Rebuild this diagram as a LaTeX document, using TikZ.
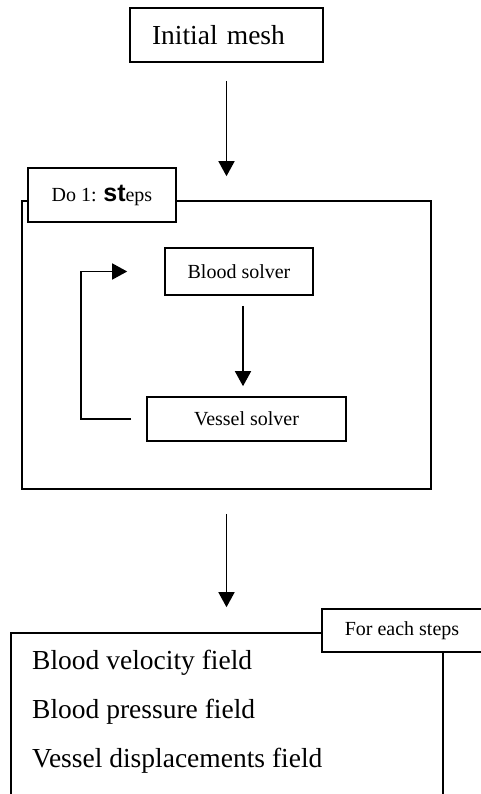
\documentclass[tikz,border=0pt]{standalone}
\usepackage{fontspec}
\setmainfont{Liberation Serif}
\setsansfont{Liberation Sans}
\usetikzlibrary{arrows.meta, positioning}

\begin{document}
\begin{tikzpicture}[x=1pt, y=-1pt,
  box/.style={draw, line width=1.6pt, fill=white, inner sep=0pt},
  bigtxt/.style={font=\fontsize{27.5}{33}\selectfont},
  smalltxt/.style={font=\fontsize{20}{24}\selectfont},
  arr/.style={line width=1.5pt, -{Triangle[length=15pt, width=16pt]}}]

  \useasboundingbox (0,0) rectangle (481,794);

  % Initial mesh
  \node[box, bigtxt, minimum height=54pt, text width=149pt, inner xsep=22pt, align=left] (mesh) at (226.5,35) {Initial mesh};

  % Time loop
  \node[box, fill=none, minimum width=409pt, minimum height=288pt] (loop) at (226.5,345) {};
  \node[box, smalltxt, minimum width=148pt, minimum height=54pt] (doloop) at (102,195) {Do 1: {\fontsize{25}{30}\selectfont\sffamily\bfseries st}eps};

  \node[box, smalltxt, minimum width=148pt, minimum height=47pt] (blood) at (239,271.5) {Blood solver};
  \node[box, smalltxt, minimum width=199pt, minimum height=44pt] (vessel) at (246.5,419) {Vessel solver};

  \draw[arr, shorten <=10pt, shorten >=10pt] ([xshift=4pt]blood.south) -- ([xshift=4pt]blood.south |- vessel.north);
  \draw[arr, shorten <=15pt, shorten >=37pt] (vessel.west) -- ++(-65,0) |- (blood.west);

  % Output fields
  \node[box, fill=none, minimum width=432pt, minimum height=190pt] (out) at (227,728) {};
  \node[box, smalltxt, minimum width=160pt, minimum height=43pt] (each) at (402,630.5) {For each steps};

  \node[bigtxt, anchor=base west, inner sep=0pt] (velo) at (32,669) {Blood velocity field};
  \node[bigtxt, anchor=base west, inner sep=0pt] (press) at (32,718) {Blood pressure field};
  \node[bigtxt, anchor=base west, inner sep=0pt] (disp) at (32,767) {Vessel displacements field};

  % Main flow
  \draw[arr, shorten <=18pt, shorten >=24pt] (mesh.south) -- (mesh.south |- loop.north);
  \draw[arr, shorten <=24pt, shorten >=25pt] (loop.south) -- (loop.south |- out.north);
\end{tikzpicture}
\end{document}
